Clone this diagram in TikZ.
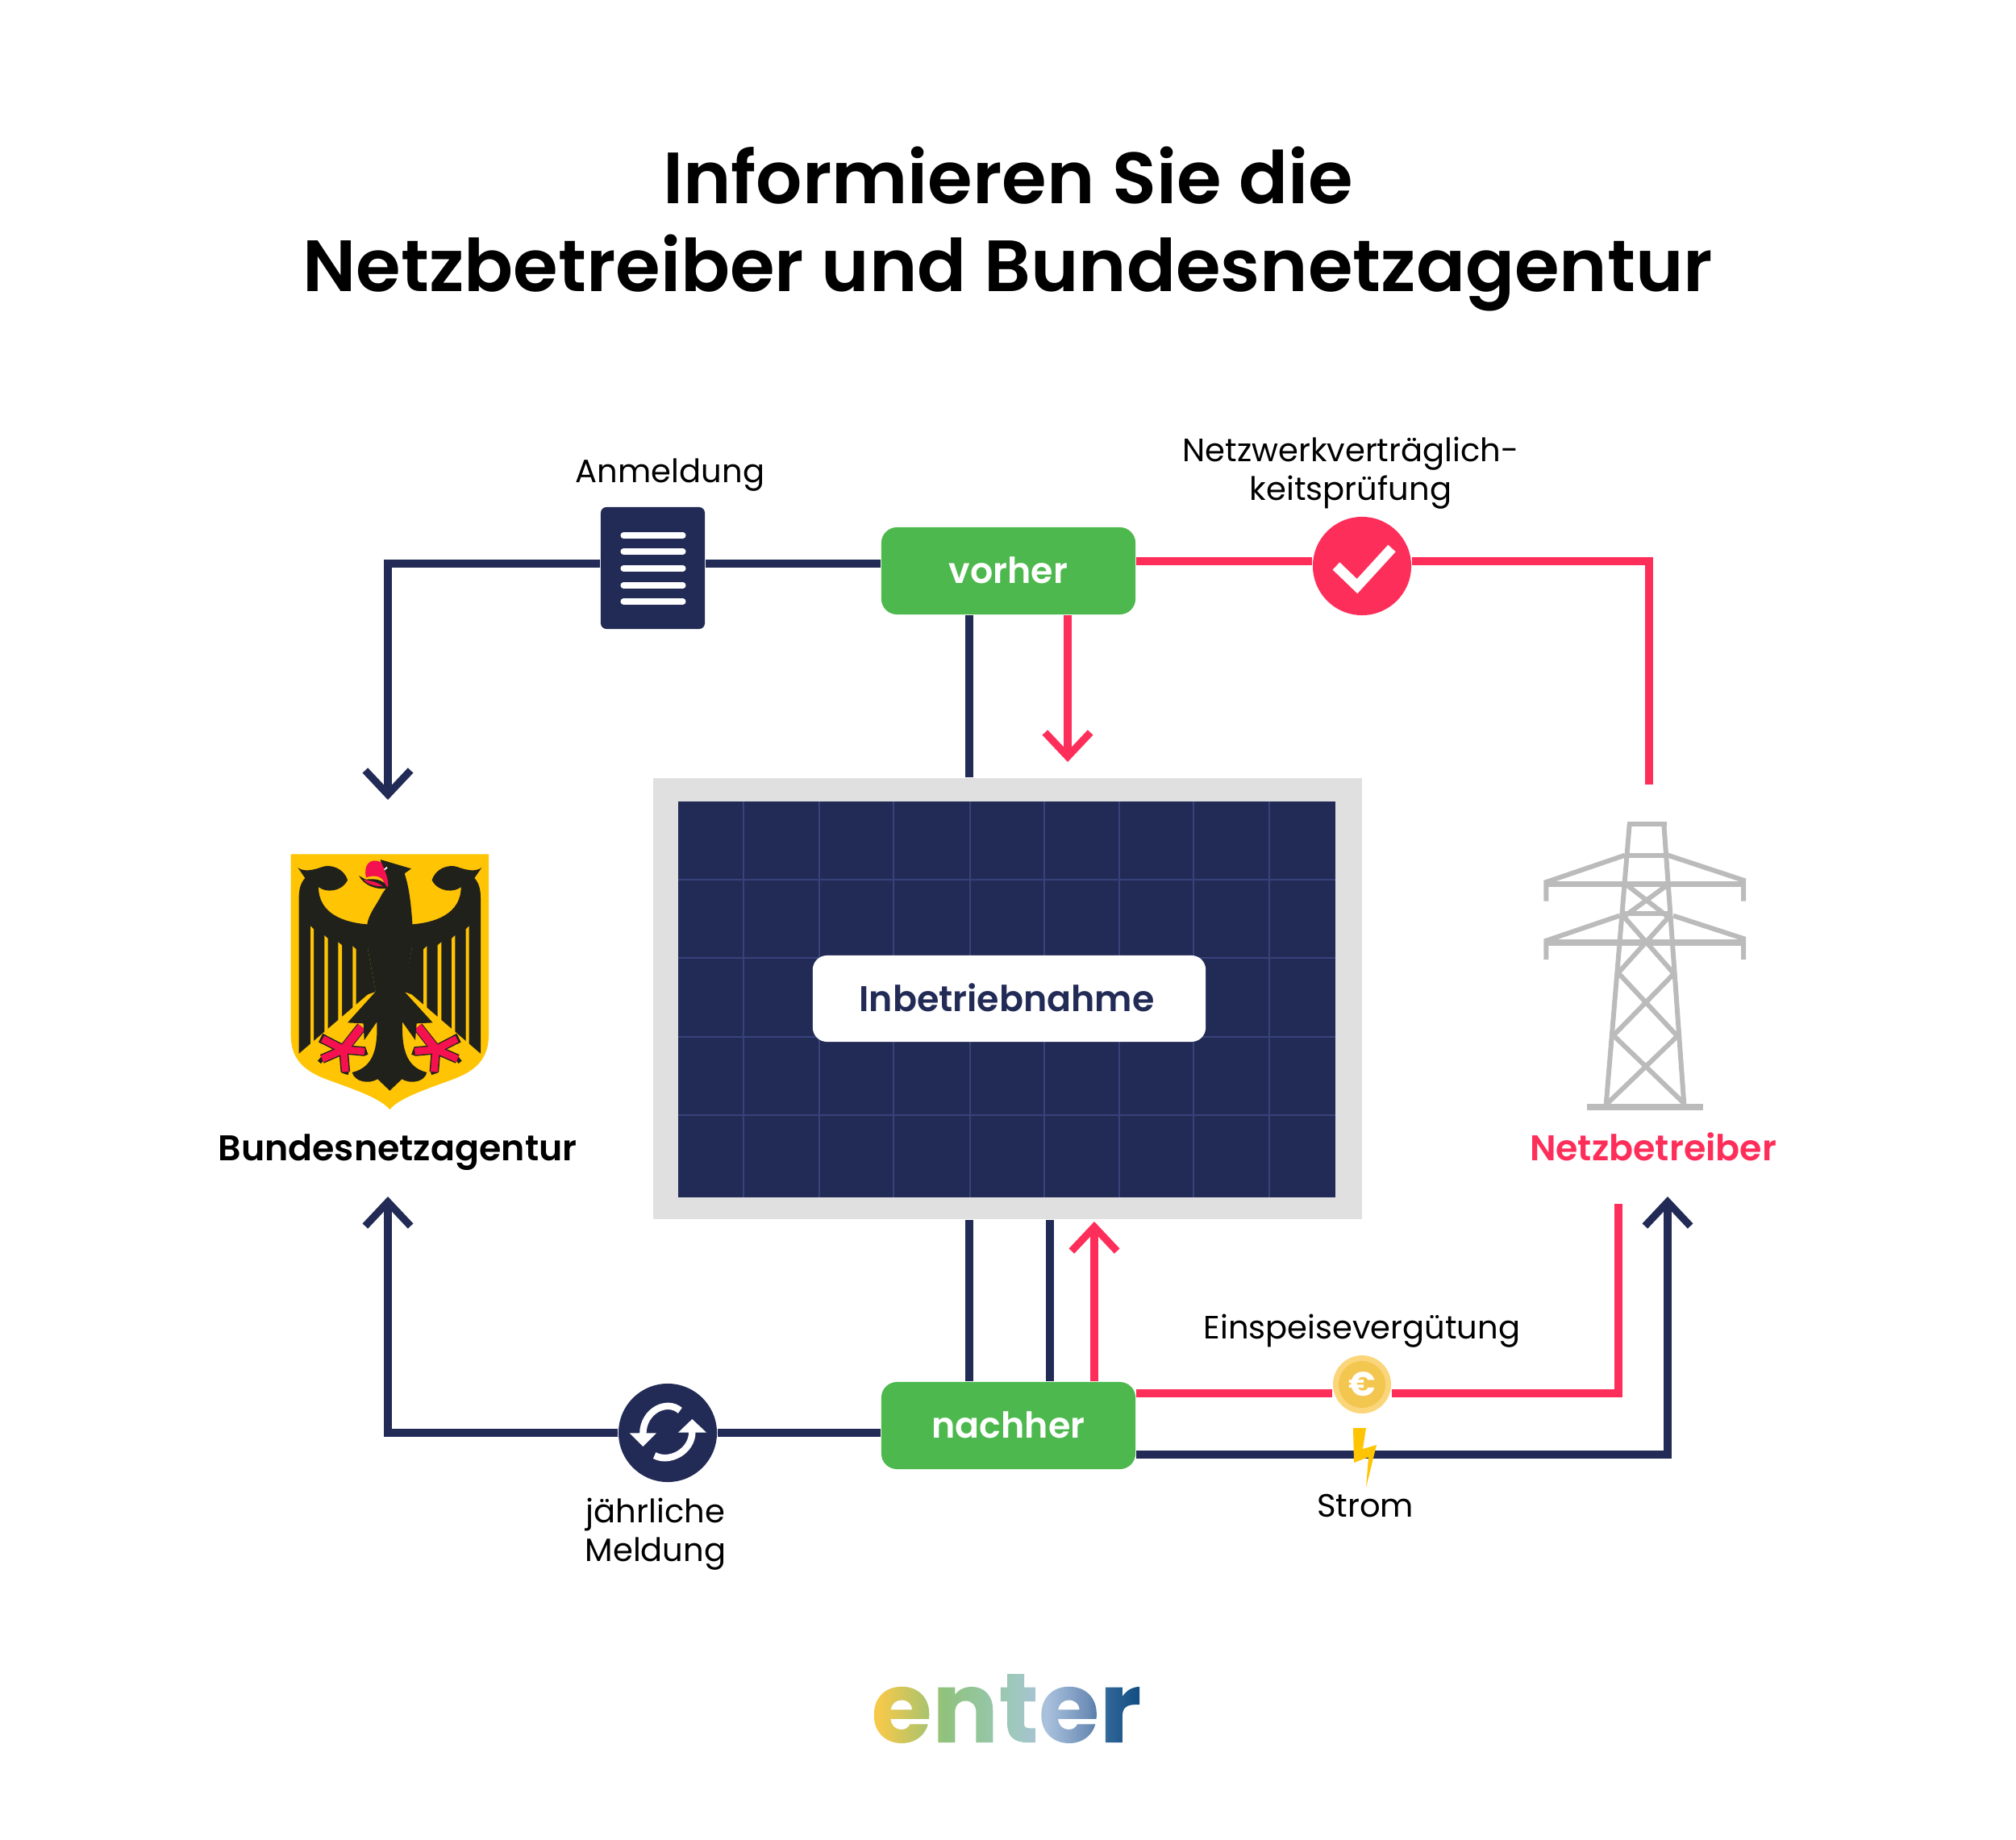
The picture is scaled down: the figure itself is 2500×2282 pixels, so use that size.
\documentclass[tikz,border=0pt]{standalone}
\usepackage{fontspec}
\setmainfont{Poppins}[BoldFont={Poppins SemiBold}]
\newfontfamily\enterfont{Poppins Bold}
\usetikzlibrary{arrows.meta}
\definecolor{navy}{HTML}{222B56}
\definecolor{netzred}{HTML}{FE2E5A}
\definecolor{boxgreen}{HTML}{4DB84E}
\definecolor{framegray}{HTML}{E0E0E0}
\definecolor{gridblue}{HTML}{37427A}
\definecolor{towergray}{HTML}{BBBBBB}
\definecolor{shieldgold}{HTML}{FFC404}
\definecolor{eagleblack}{HTML}{21211C}
\definecolor{eaglered}{HTML}{F5104F}
\definecolor{coinout}{HTML}{FBD57A}
\definecolor{coinin}{HTML}{F3C64F}
\definecolor{entera}{HTML}{F5C94A}
\definecolor{enterb}{HTML}{B3C46A}
\definecolor{enterc}{HTML}{8FC27D}
\definecolor{enterd}{HTML}{96C6A6}
\definecolor{entere}{HTML}{A0C8C0}
\definecolor{enterf}{HTML}{A8C0DC}
\definecolor{enterg}{HTML}{6F8FB8}
\definecolor{enterh}{HTML}{2F6496}
\definecolor{enteri}{HTML}{0F4C81}
\pgfdeclarehorizontalshading{entershade}{100bp}{color(0bp)=(entera);
  color(26.5bp)=(entera);
  color(34.5bp)=(enterb);
  color(38.5bp)=(enterc);
  color(47bp)=(enterd);
  color(52bp)=(entere);
  color(57.5bp)=(enterf);
  color(65bp)=(enterg);
  color(69bp)=(enterh);
  color(75bp)=(enteri);
  color(100bp)=(enteri)}
\newsavebox{\enterbox}
\newcommand{\enterword}{%
  \sbox{\enterbox}{enter}%
  \special{pdf:code q 7 Tr}enter\special{pdf:code 0 Tr}%
  \llap{\begin{tikzpicture}[baseline=0pt]
    \shade[shading=entershade] (0pt,-4pt) rectangle (\wd\enterbox,34pt);
  \end{tikzpicture}}%
  \special{pdf:code Q}}
\tikzset{
  navyline/.style={draw=navy,line width=2.6pt},
  redline/.style={draw=netzred,line width=2.6pt},
  greenbox/.style={fill=boxgreen,rounded corners=5.5pt,minimum width=3.15cm,minimum height=1.08cm,text=white,font=\bfseries\fontsize{12.6}{15}\selectfont,inner sep=0pt},
  smalllabel/.style={font=\fontsize{11.4}{13.7}\selectfont,align=center,inner sep=0pt},
  actorlabel/.style={font=\bfseries\fontsize{12.6}{15}\selectfont,inner sep=0pt},
  towerbar/.style={draw=towergray,line width=1.7pt},
}
\newcommand{\eaglehalf}{
  \fill[eagleblack] (420,380) .. controls (320,375) and (225,340) .. (225,240) .. controls (250,262) and (310,260) .. (333,215) .. controls (320,170) and (270,155) .. (240,165) .. controls (205,178) and (170,185) .. (148,168) -- (175,207) .. controls (158,225) and (152,250) .. (152,280) -- (152,860) -- (408,640) -- (437,630) -- (408,468) -- (420,440) -- cycle;
  \foreach \slotl/\slotr/\slottop in {195/207/385,247/260/420,298/312/445,352/365/460}
    \fill[shieldgold] (\slotl,\slottop) -- (\slotr,\slottop+12) -- (\slotr,900) -- (\slotl,900) -- cycle;
  \fill[shieldgold] (352,900) -- (352,700) -- (437,630) -- (437,900) -- cycle;
  \foreach \armx/\army/\capx/\capy in {240/805/8/-16,397/852/5/14,238/880/-10/12,325/928/12/4}{
    \draw[eagleblack,line width=3.3pt] (318,845) -- (\armx,\army);
    \draw[eagleblack,line width=1.5pt] (\armx+\capx,\army+\capy) -- (\armx-\capx,\army-\capy);
  }
  \draw[eagleblack,line width=3.6pt] (318,845) -- (385,760);
  \foreach \armx/\army in {240/805,397/852,238/880,325/928}
    \draw[eaglered,line width=2.5pt] (318,845) -- (\armx,\army);
  \draw[eaglered,line width=3pt] (318,845) -- (385,760);
}
\begin{document}
\begin{tikzpicture}[x=0.01cm,y=-0.01cm,>={Straight Barb[length=8.5pt,width=16pt]}]
  \useasboundingbox (0,0) rectangle (2500,2282);
  \fill[white] (0,0) rectangle (2500,2282);

  \node[font=\bfseries\fontsize{25.6}{31}\selectfont,align=center,inner sep=0pt] (title) at (1250,284) {Informieren Sie die\\Netzbetreiber und Bundesnetzagentur};

  \node[fill=framegray,minimum width=8.79cm,minimum height=5.47cm,inner sep=0pt] (panel) at (1249.5,1238.5) {};
  \fill[navy] (841,994) rectangle (1656,1485);
  \foreach \gridx in {922,1016,1108,1203,1295,1388,1480,1574}
    \draw[gridblue,line width=0.8pt] (\gridx,994) -- (\gridx,1485);
  \foreach \gridy in {1091,1188,1286,1383}
    \draw[gridblue,line width=0.8pt] (841,\gridy) -- (1656,\gridy);
  \node[fill=white,rounded corners=5pt,minimum width=4.87cm,minimum height=1.07cm,text=navy,font=\bfseries\fontsize{12.6}{15}\selectfont,inner sep=0pt] (inbetrieb) at (1251.5,1238.5) {\hspace*{-1.7pt}\raisebox{0.9pt}{Inbetriebnahme}};

  \node[greenbox] (vorher) at (1250.5,708) {\raisebox{0.6pt}{vorher}};
  \node[greenbox] (nachher) at (1250.5,1768) {\raisebox{0.6pt}{nachher}};

  \node[fill=navy,rounded corners=2pt,minimum width=1.29cm,minimum height=1.51cm,inner sep=0pt] (anmeldebox) at (809.5,704.5) {};
  \foreach \doclinie in {664,684,705,726,746}
    \draw[white,line width=2pt,line cap=round] (773,\doclinie) -- (847,\doclinie);
  \node[smalllabel] (anmeldung) at (831,589) {Anmeldung};

  \node[circle,fill=netzred,minimum size=1.22cm,inner sep=0pt] (pruefung) at (1689,702) {};
  \draw[white,line width=3.6pt] (1657,702) -- (1683,727) -- (1726,680);
  \node[smalllabel] (pruefungtext) at (1675,587) {Netzwerkverträglich-\\keitsprüfung};

  \node[circle,fill=navy,minimum size=1.22cm,inner sep=0pt] (meldung) at (828,1777) {};
  \begin{scope}[shift={(740,1700)},x=0.01cm/3,y=-0.01cm/3]
    \draw[white,line width=2.4pt] (310,148) .. controls (260,105) and (172,150) .. (172,235);
    \fill[white] (122,232) -- (222,232) -- (172,282) -- cycle;
    \draw[white,line width=2.4pt] (355,228) .. controls (355,300) and (270,345) .. (215,315);
    \fill[white] (303,230) -- (408,230) -- (355,180) -- cycle;
  \end{scope}
  \node[smalllabel] (meldungtext) at (813,1903) {jährliche\\Meldung};

  \node[circle,fill=coinout,minimum size=0.72cm,inner sep=0pt] (coin) at (1689,1717) {};
  \node[circle,fill=coinin,minimum size=0.58cm,inner sep=0pt,text=white,font=\enterfont\fontsize{12}{12}\selectfont] (euro) at (1689,1717) {€};
  \node[smalllabel] (einspeisung) at (1689,1651) {Einspeisevergütung};
  \node[smalllabel] (strom) at (1693,1868) {Strom};

  \node[actorlabel] (bnetza) at (493,1429) {Bundesnetzagentur};
  \node[actorlabel,text=netzred] (netzbetreiber) at (2050,1422) {Netzbetreiber};

  \coordinate (bnetzaoben) at (481,992);
  \coordinate (bnetzaunten) at (481,1484);
  \coordinate (netzoben) at (2045,973);
  \coordinate (netzrot) at (2007,1493);
  \coordinate (netzblau) at (2068,1484);
  \coordinate (vorhertop) at (481,699);
  \coordinate (vorherrot) at (2045,696);
  \coordinate (nachherlinks) at (481,1777);
  \coordinate (nachherrot) at (2007,1728);
  \coordinate (nachherblau) at (2068,1804);
  \coordinate (panelrotoben) at (1324,945);
  \coordinate (panelrotunten) at (1357,1515);
  \coordinate (zweiglinks) at (1202,1000);
  \coordinate (zweigrechts) at (1302,1000);

  \draw[navyline] (vorher.west |- vorhertop) -- (anmeldebox.east |- vorhertop);
  \draw[navyline,->] (anmeldebox.west |- vorhertop) -- (vorhertop) -- (bnetzaoben);
  \draw[redline] (vorher.east |- vorherrot) -- (pruefung.west |- vorherrot);
  \draw[redline] (pruefung.east |- vorherrot) -- (vorherrot) -- (netzoben);
  \draw[navyline] (vorher.south -| zweiglinks) -- (panel.north -| zweiglinks);
  \draw[redline,->] (vorher.south -| panelrotoben) -- (panelrotoben);
  \draw[navyline] (panel.south -| zweiglinks) -- (nachher.north -| zweiglinks);
  \draw[navyline] (panel.south -| zweigrechts) -- (nachher.north -| zweigrechts);
  \draw[redline,->] (nachher.north -| panelrotunten) -- (panelrotunten);
  \draw[navyline] (nachher.west |- nachherlinks) -- (meldung.east |- nachherlinks);
  \draw[navyline,->] (meldung.west |- nachherlinks) -- (nachherlinks) -- (bnetzaunten);
  \draw[redline] (nachher.east |- nachherrot) -- (coin.west |- nachherrot);
  \draw[redline] (coin.east |- nachherrot) -- (nachherrot) -- (netzrot);
  \draw[navyline,->] (nachher.east |- nachherblau) -- (nachherblau) -- (netzblau);

  \fill[shieldgold] (1678,1771) -- (1694,1771) -- (1690,1797) -- (1707,1792) -- (1694,1845) -- (1697,1807) -- (1679,1814) -- cycle;

  \begin{scope}[shift={(320,1020)},x=0.01cm/3,y=-0.01cm/3]
    \fill[shieldgold] (122,118) -- (858,118) -- (858,790) .. controls (858,880) and (810,920) .. (740,950) .. controls (650,985) and (530,1020) .. (490,1068) .. controls (450,1020) and (330,985) .. (240,950) .. controls (170,920) and (122,880) .. (122,790) -- cycle;
    \eaglehalf
    \begin{scope}[shift={(980,0)},xscale=-1]
      \eaglehalf
    \end{scope}
    \fill[eagleblack] (405,385) .. controls (410,340) and (440,310) .. (462,265) -- (480,240) -- (455,138) -- (570,172) -- (545,190) .. controls (565,250) and (570,320) .. (575,385) -- (572,468) -- (545,630) -- (650,745) -- (590,748) -- (585,810) -- (537,742) .. controls (535,830) and (545,910) .. (628,930) .. controls (620,965) and (570,975) .. (535,955) -- (490,998) -- (445,955) .. controls (410,975) and (360,965) .. (350,930) .. controls (435,910) and (445,830) .. (442,742) -- (395,810) -- (392,748) -- (333,745) -- (437,630) -- (408,468) -- cycle;
    \fill[eaglered] (458,148) .. controls (420,130) and (390,155) .. (402,205) .. controls (430,195) and (460,198) .. (468,222) -- (470,243) -- (484,238) .. controls (485,205) and (470,175) .. (458,148) -- cycle;
    \fill[eagleblack] (375,198) .. controls (395,235) and (440,252) .. (482,245) -- (470,225) .. controls (445,205) and (410,212) .. (400,212) -- cycle;
    \fill[eaglered] (392,213) .. controls (415,216) and (445,222) .. (465,238) .. controls (440,238) and (410,232) .. (392,213) -- cycle;
    \draw[white,line width=0.5pt] (470,176) -- (480,167);
  \end{scope}

  \begin{scope}[shift={(1880,990)},x=0.01cm/3,y=-0.01cm/3]
    \foreach \barfrom/\barto in {{(422,97)/(335,1140)},{(550,97)/(625,1140)},{(405,212)/(565,212)},{(400,430)/(570,430)},{(415,325)/(570,445)},{(560,325)/(395,445)},{(405,445)/(585,650)},{(565,445)/(380,650)},{(385,655)/(600,885)},{(585,655)/(360,885)},{(365,885)/(625,1135)},{(600,885)/(335,1140)}}
      \draw[towerbar] \barfrom -- \barto;
    \draw[towerbar] (413,97) -- (560,97);
    \draw[towerbar] (405,212) -- (112,312) -- (112,383);
    \draw[towerbar] (565,212) -- (846,305) -- (846,383);
    \draw[towerbar] (385,437) -- (112,530) -- (112,600);
    \draw[towerbar] (585,437) -- (846,522) -- (846,600);
    \draw[towerbar,line width=2pt] (112,320) -- (846,320);
    \draw[towerbar,line width=2pt] (112,537) -- (846,537);
    \draw[towerbar,line width=2.3pt] (265,1150) -- (695,1150);
  \end{scope}

  \node[font=\enterfont\fontsize{34.8}{37}\selectfont,inner sep=0pt,anchor=base] (enterlogo) at (1248,2161) {\enterword};
\end{tikzpicture}
\end{document}
